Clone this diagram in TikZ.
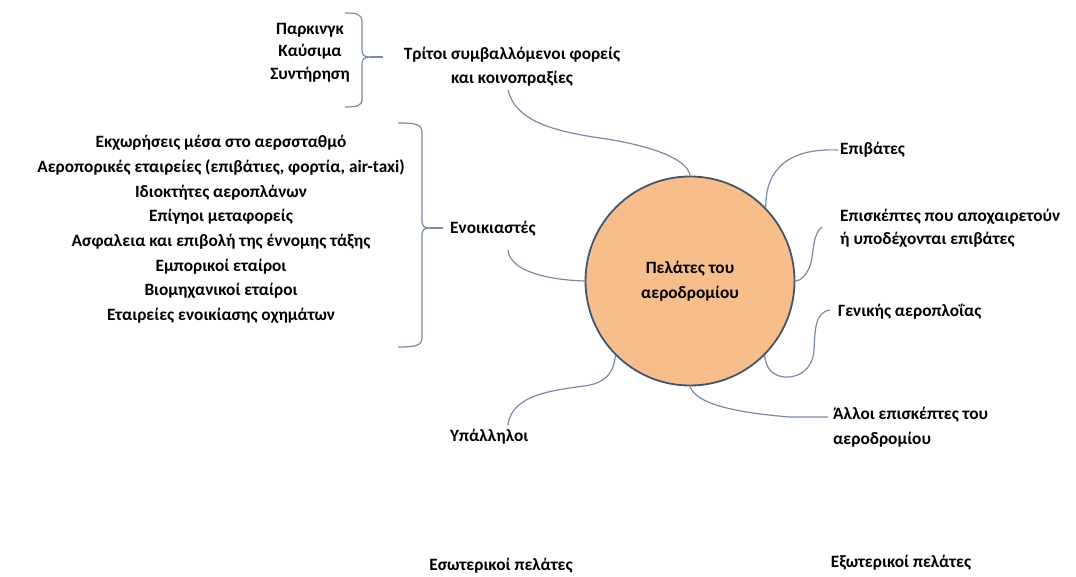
\documentclass[tikz,border=0pt]{standalone}
\usepackage{fontspec}
\setmainfont{Carlito}
\definecolor{conn}{HTML}{7A8AA3}
\definecolor{cfill}{HTML}{F7BE8C}
\definecolor{cdraw}{HTML}{44546A}
\begin{document}
\begin{tikzpicture}[x=1pt,y=-1pt,
  lbl/.style={font=\bfseries\fontsize{17.3}{24.5}\selectfont, inner sep=0pt, text=black},
  conline/.style={draw=conn, line width=1.2pt},
  bracestyle/.style={draw=conn, line width=1.2pt}]
\useasboundingbox (0,0) rectangle (1076,577);

% central circle
\node[draw=cdraw, fill=cfill, line width=1.8pt, circle, minimum size=209pt, inner sep=0pt,
      align=center, font=\bfseries\fontsize{17.3}{25}\selectfont] (c) at (690,281) {Πελάτες του\\αεροδρομίου};

% top-left
\node[lbl, align=center, font=\bfseries\fontsize{17.3}{22.5}\selectfont] (park) at (310,52.5) {Παρκινγκ\\Καύσιμα\\Συντήρηση};
\node[lbl, align=center, font=\bfseries\fontsize{17.3}{24}\selectfont] (tri) at (512,67) {Τρίτοι συμβαλλόμενοι φορείς\\και κοινοπραξίες};
\coordinate (b1tip) at (370,57);
\draw[bracestyle] (345,13) .. controls (357,13) and (362,14) .. (362,22) -- (362,50)
  .. controls (362,55) and (364,57) .. (b1tip)
  .. controls (364,57) and (362,59) .. (362,64) -- (362,99)
  .. controls (362,106) and (357,107) .. (345,107);
\draw[conline] (b1tip) -- (383,57);

% left list
\node[lbl, align=center, font=\bfseries\fontsize{17.3}{24.7}\selectfont] (list) at (221,229.5) {Εκχωρήσεις μέσα στο αερσσταθμό\\Αεροπορικές εταιρείες (επιβάτιες, φορτία, air-taxi)\\Ιδιοκτήτες αεροπλάνων\\Επίγηοι μεταφορείς\\Ασφαλεια και επιβολή της έννομης τάξης\\Εμπορικοί εταίροι\\Βιομηχανικοί εταίροι\\Εταιρείες ενοικίασης οχημάτων};
\coordinate (b2tip) at (430,228);
\draw[bracestyle] (398,123) .. controls (414,123) and (422,124) .. (422,132) -- (422,221)
  .. controls (422,226) and (424,228) .. (b2tip)
  .. controls (424,228) and (422,230) .. (422,235) -- (422,338)
  .. controls (422,346) and (414,347) .. (398,347);
\draw[conline] (b2tip) -- (443,228);

\node[lbl, anchor=west] (enoik) at (450,229) {Ενοικιαστές};
\node[lbl, anchor=west] (ypal) at (450,437) {Υπάλληλοι};

% right labels
\node[lbl, anchor=west] (epib) at (840,150) {Επιβάτες};
\node[lbl, anchor=west, align=left, font=\bfseries\fontsize{17.3}{23}\selectfont] (episk) at (840,228.5) {Επισκέπτες που αποχαιρετούν\\ή υποδέχονται επιβάτες};
\node[lbl, anchor=west] (gen) at (838,312) {Γενικής αεροπλοΐας};
\node[lbl, anchor=west, align=left, font=\bfseries\fontsize{17.3}{25}\selectfont] (allo) at (833,427.5) {Άλλοι επισκέπτες του\\αεροδρομίου};

% bottom labels
\node[lbl] (eso) at (501,566) {Εσωτερικοί πελάτες};
\node[lbl] (exo) at (901,563) {Εξωτερικοί πελάτες};

% connectors
\coordinate (t1) at (508,90);
\draw[conline] (t1) .. controls (515,118) and (545,130) .. (600,138)
  .. controls (655,146) and (688,160) .. (c.north);
\coordinate (e1) at (508,250);
\draw[conline] (e1) .. controls (510,272) and (550,280) .. (c.west);
\coordinate (y1) at (508,425);
\draw[conline] (y1) .. controls (512,392) and (560,390) .. (590,385)
  .. controls (608,381) and (614,370) .. (c.-135);
\draw[conline] ([xshift=-2pt]epib.west) .. controls (790,148) and (765,168) .. (c.44);
\draw[conline] (822,227) .. controls (812,234) and (814,255) .. (810,266)
  .. controls (806,276) and (800,281) .. (c.east);
\draw[conline] (830,310) .. controls (815,312) and (815,330) .. (814,350)
  .. controls (813,368) and (800,378) .. (785,377)
  .. controls (772,376) and (766,368) .. (c.-45);
\draw[conline] (c.south) .. controls (696,405) and (740,413) .. (790,417) -- (828,417);
\end{tikzpicture}
\end{document}
